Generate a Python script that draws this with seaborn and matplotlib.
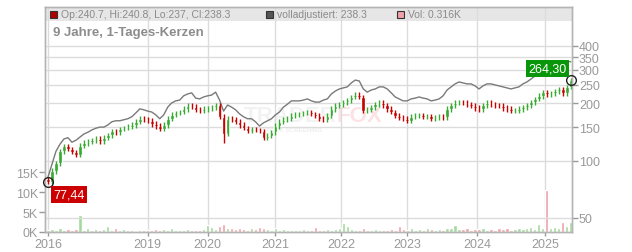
import numpy as np
import pandas as pd
import matplotlib
matplotlib.use("Agg")
import matplotlib.pyplot as plt
from matplotlib.patches import Rectangle
from matplotlib.ticker import NullLocator, NullFormatter
import seaborn as sns

# Kerzen (etwa 4 Handelstage je Kerze)
close = [77.44, 88, 97, 112, 119, 115, 111, 107, 120, 124,
         126, 128, 130, 127, 132, 136, 143, 141, 147, 148,
         150, 154, 160, 166, 164, 162, 156, 152, 147, 154,
         166, 174, 178, 180, 187, 194, 192, 185, 182, 187,
         188, 191, 196, 170, 138, 166, 165, 160, 154, 148,
         143, 147, 145, 143, 132, 135, 141, 152, 160, 164,
         166, 172, 174, 176, 178, 180, 176, 172, 166, 164,
         172, 187, 194, 198, 203, 208, 216, 221, 216, 182,
         185, 191, 198, 201, 196, 187, 180, 172, 168, 166,
         162, 170, 172, 173, 170, 171, 166, 168, 170, 169,
         187, 196, 201, 203, 201, 198, 194, 189, 187, 196,
         201, 198, 196, 194, 189, 187, 182, 183, 187, 191,
         196, 203, 211, 219, 229, 224, 226, 232, 238, 226,
         244, 264.3]
high = [82, 91, 100, 115, 123, 123, 118, 114, 124, 128,
        130, 132, 134, 134, 136, 140, 147, 147, 151, 152,
        155, 159, 165, 171, 171, 169, 167, 161, 157, 159,
        171, 179, 183, 185, 193, 200, 200, 198, 191, 193,
        194, 197, 202, 202, 175, 171, 171, 170, 165, 159,
        152, 151, 151, 149, 147, 139, 145, 157, 165, 169,
        171, 177, 179, 181, 183, 185, 185, 181, 177, 171,
        177, 193, 200, 204, 209, 214, 222, 228, 228, 222,
        191, 197, 204, 207, 207, 202, 193, 185, 177, 173,
        171, 175, 177, 178, 178, 176, 176, 173, 175, 175,
        193, 202, 207, 209, 209, 207, 204, 200, 195, 202,
        207, 207, 204, 202, 200, 195, 193, 188, 193, 197,
        202, 209, 217, 226, 236, 236, 233, 239, 245, 245,
        251, 272]
low = [75, 75, 85, 94, 109, 112, 108, 104, 104, 116,
       120, 122, 124, 123, 123, 128, 132, 137, 137, 143,
       144, 146, 149, 155, 159, 157, 151, 147, 143, 143,
       149, 161, 169, 173, 175, 181, 186, 179, 177, 177,
       181, 182, 185, 165, 124, 134, 160, 155, 149, 144,
       139, 139, 141, 139, 128, 128, 131, 137, 147, 155,
       159, 161, 167, 169, 171, 173, 171, 167, 161, 159,
       159, 167, 181, 188, 192, 197, 202, 210, 210, 177,
       177, 179, 185, 192, 190, 181, 175, 167, 163, 161,
       157, 157, 165, 167, 165, 165, 161, 161, 163, 164,
       164, 181, 190, 195, 195, 192, 188, 183, 181, 181,
       190, 192, 190, 188, 183, 181, 177, 177, 178, 181,
       185, 190, 197, 205, 212, 217, 217, 219, 225, 219,
       219, 237]
first_open = 80
adjusted = [82, 96, 112, 122, 130, 132, 125, 128, 133, 138,
            141, 145, 148, 150, 150, 154, 160, 162, 162, 164,
            166, 170, 178, 187, 185, 182, 180, 174, 166, 174,
            191, 201, 206, 208, 219, 224, 227, 213, 211, 216,
            219, 221, 229, 208, 182, 196, 191, 185, 176, 170,
            166, 166, 160, 152, 158, 162, 166, 174, 180, 191,
            198, 206, 206, 206, 208, 211, 206, 203, 203, 208,
            211, 224, 232, 238, 241, 244, 256, 265, 262, 238,
            229, 235, 238, 244, 244, 238, 227, 216, 211, 206,
            206, 211, 213, 216, 213, 211, 206, 208, 211, 219,
            235, 244, 253, 259, 256, 253, 253, 247, 238, 247,
            253, 253, 250, 247, 244, 241, 238, 241, 244, 253,
            259, 268, 278, 285, 296, 303, 307, 314, 322, 330,
            334, 330]
volume_k = [0.6, 0.8, 0.5, 0.9, 0.4, 0.7, 0.5, 0.8, 4.3, 0.6,
            0.9, 0.5, 0.7, 0.4, 0.8, 1.6, 0.6, 0.9, 0.5, 0.7,
            0.4, 0.6, 0.3, 0.5, 0.4, 0.6, 0.5, 0.8, 0.4, 0.7,
            0.5, 0.9, 0.4, 0.6, 0.5, 0.8, 0.5, 0.4, 0.6, 0.7,
            1.7, 1.2, 0.8, 1.4, 1.9, 1.1, 0.9, 0.7, 1.0, 0.8,
            0.6, 0.9, 0.7, 1.2, 1.0, 0.8, 0.6, 0.9, 0.5, 0.7,
            0.4, 0.6, 0.5, 0.4, 0.7, 0.5, 0.6, 1.3, 0.5, 0.4,
            0.8, 0.6, 0.7, 0.9, 2.3, 1.5, 0.8, 0.6, 0.5, 0.9,
            0.6, 0.4, 0.7, 0.5, 0.6, 0.4, 0.8, 0.5, 1.6, 0.7,
            0.6, 0.9, 0.5, 0.8, 0.6, 1.0, 0.7, 0.5, 0.8, 0.6,
            0.9, 1.1, 1.7, 0.8, 0.7, 0.9, 0.6, 0.8, 0.7, 1.0,
            0.6, 0.8, 0.5, 1.1, 0.7, 0.9, 0.6, 0.8, 1.0, 0.7,
            0.9, 1.2, 0.8, 2.0, 1.1, 10.5, 0.9, 1.2, 1.0, 2.5,
            1.4, 2.5]

year_labels = ["2016", "2019", "2020", "2021", "2022", "2023", "2024", "2025"]
year_index = [0, 25, 40, 57, 73.5, 90, 107.5, 124.6]
price_ticks = [50, 100, 150, 200, 250, 300, 350, 400]
vol_ticks = [0, 5, 10, 15]
vol_labels = ["0K", "5K", "10K", "15K"]
legend_ohlc = "Op:240.7, Hi:240.8, Lo:237, Cl:238.3"
legend_adj = "volladjustiert: 238.3"
legend_vol = "Vol: 0.316K"
subtitle = "9 Jahre, 1-Tages-Kerzen"
first_label = "77,44"
last_label = "264,30"

df = pd.DataFrame({"close": close, "high": high, "low": low,
                   "adj": adjusted, "vol": volume_k})
df["open"] = df["close"].shift(1).fillna(first_open)
df["up"] = df["close"] >= df["open"]
df["i"] = np.arange(len(df))

sns.set_theme(style="white")
plt.rcParams["font.family"] = ["Liberation Sans", "DejaVu Sans"]

W, H = 632, 253
fig = plt.figure(figsize=(W / 100, H / 100), dpi=100)
axv = fig.add_axes([45 / W, 1 - 233 / H, (572 - 45) / W, (233 - 8) / H])
axp = axv.twinx()

grid_c = "#dcdcdc"
txt_c = "#999999"
red, green = "#c80000", "#3aaa35"
vred, vgreen = "#f0a0a9", "#a3d99c"

# Kopfzeile (Legendenband)
axv.add_patch(Rectangle((0, (233 - 22) / 225), 1, 14 / 225, transform=axv.transAxes,
                        facecolor="#e6e6e6", edgecolor="none", zorder=0.1))

# Volumen
axv.bar(df["i"], df["vol"], width=0.8,
        color=np.where(df["up"], vgreen, vred), zorder=1)
axv.set_ylim(0, 56.25)
axv.set_yticks(vol_ticks, vol_labels)
axv.set_xticks(year_index, year_labels)
axv.set_axisbelow(True)
axv.grid(axis="x", color=grid_c, lw=1)
axv.grid(axis="y", visible=False)

# Wasserzeichen
axv.text(337 / W, 1 - 117 / H, "TRADER", transform=fig.transFigure, ha="right",
         va="center", fontsize=16, fontweight="bold", color="#000000", alpha=0.05, zorder=0.3)
axv.text(337 / W, 1 - 117 / H, "FOX", transform=fig.transFigure, ha="left",
         va="center", fontsize=16, fontweight="bold", color="#e8202f", alpha=0.13, zorder=0.3)
axv.text(292 / W, 1 - 131 / H, "STOCK SCREENING", transform=fig.transFigure, ha="center",
         va="center", fontsize=4.5, fontweight="bold", color="#000000", alpha=0.07, zorder=0.3)

# Kurs
axp.set_yscale("log")
sns.lineplot(data=df, x="i", y="adj", ax=axp, color="#7a7a7a", lw=1.0)
cols = np.where(df["up"], green, red)
axp.vlines(df["i"], df["low"], df["high"], colors=cols, lw=1.0)
body_lo = np.minimum(df["open"], df["close"])
body_h = np.abs(df["close"] - df["open"])
axp.bar(df["i"], body_h, bottom=body_lo, width=0.9, color=cols)

axp.set_ylim(42.2, 641)
axp.yaxis.set_minor_locator(NullLocator())
axp.yaxis.set_minor_formatter(NullFormatter())
axp.set_yticks(price_ticks, [str(t) for t in price_ticks])
axp.grid(axis="y", color=grid_c, lw=1)
axp.grid(axis="x", visible=False)
axp.set_xlabel("")
axp.set_ylabel("")
axv.set_xlim(-0.75, 131.3)
axp.set_xlim(-0.75, 131.3)

n = len(df) - 1
axp.plot([0], [close[0]], "o", mfc="none", mec="#222222", ms=7, mew=1, clip_on=False, zorder=5)
axp.plot([n], [close[-1]], "o", mfc="none", mec="#222222", ms=7, mew=1, clip_on=False, zorder=5)
axp.annotate(first_label, xy=(0, close[0]), xytext=(4, -5), textcoords="offset points",
             ha="left", va="top", fontsize=9, color="white", zorder=6,
             bbox=dict(boxstyle="square,pad=0.18", fc="#cc0000", ec="none"))
axp.annotate(last_label, xy=(n, close[-1]), xytext=(-3, 4), textcoords="offset points",
             ha="right", va="bottom", fontsize=9, color="white", zorder=6,
             bbox=dict(boxstyle="square,pad=0.18", fc="#0a960a", ec="none"))

for ax in (axv, axp):
    for s in ax.spines.values():
        s.set_color("#b4b4b4")
        s.set_linewidth(1)
axv.tick_params(axis="y", left=True, length=4, width=1, color="#999999",
                labelcolor=txt_c, labelsize=9, pad=1)
axv.tick_params(axis="x", bottom=True, length=3, width=1, color="#999999",
                labelcolor=txt_c, labelsize=9, pad=1)
axp.tick_params(axis="y", right=True, length=4, width=1, color="#999999",
                labelcolor=txt_c, labelsize=9, pad=1)

# Legende oben
def fig_xy(px, py):
    return px / W, 1 - py / H

for px, fc, label in [(50, "#b00000", legend_ohlc), (266, "#555555", legend_adj),
                      (397, vred, legend_vol)]:
    x0, y0 = fig_xy(px, 19)
    fig.add_artist(Rectangle((x0, y0), 7 / W, 7 / H, transform=fig.transFigure,
                             facecolor=fc, edgecolor="#333333", lw=0.8))
    tx, ty = fig_xy(px + 11, 15.5)
    fig.text(tx, ty, label, ha="left", va="center", fontsize=7.5, color="#8a8a8a")

sx, sy = fig_xy(53, 33)
fig.text(sx, sy, subtitle, ha="left", va="center", fontsize=9.5,
         fontweight="bold", color="#8c8c8c")

fig.savefig("out.png", dpi=100)
